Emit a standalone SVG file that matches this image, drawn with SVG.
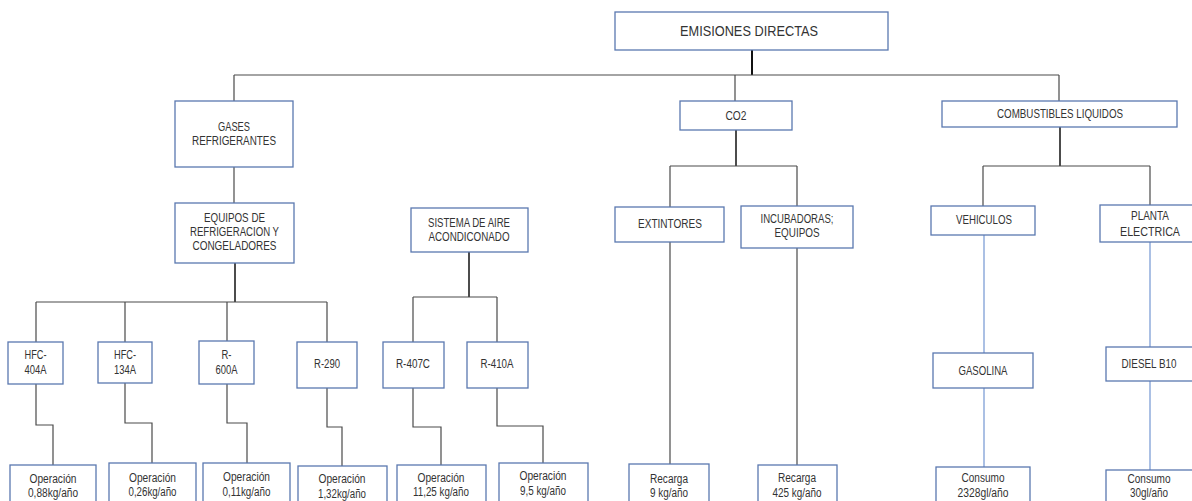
<svg xmlns="http://www.w3.org/2000/svg" width="1192" height="501" viewBox="0 0 1192 501">
<style>
.box{fill:#fff;stroke:#5a78b0;stroke-width:1.3}
.t{font-family:"Liberation Sans",Arial,sans-serif;font-size:12px;fill:#333;text-anchor:middle}
.big{font-size:14.5px}
.c{fill:none;stroke:#4a4a4a;stroke-width:1.2}
.k{fill:none;stroke:#111;stroke-width:1.5}
.b{fill:none;stroke:#7f9fd6;stroke-width:1.3}
</style>
<rect width="1192" height="501" fill="#fff"/>
<g id="connectors">
<path class="k" d="M752,50 V75" style="stroke-width:2"/>
<path class="c" d="M234,75 H1059 M234,75 V101 M735,75 V101 M1059,75 V101"/>
<path class="c" d="M234,167 V203"/>
<path class="k" d="M235,263 V302"/>
<path class="c" d="M36,302 H327 M36,302 V342 M125,302 V342 M227,302 V341 M327,302 V342"/>
<path class="k" d="M469,252 V297"/>
<path class="c" d="M413,297 H497 M413,297 V342 M497,297 V342"/>
<path class="c" d="M36,384 V425 H53 V465"/>
<path class="c" d="M125,383 V423 H152 V463"/>
<path class="c" d="M227,384 V423 H247 V463"/>
<path class="c" d="M327,388 V427 H342 V466"/>
<path class="c" d="M413,388 V427 H441 V465"/>
<path class="c" d="M497,388 V426 H543 V463"/>
<path class="k" d="M736,130 V166"/>
<path class="c" d="M670,166 H797 M670,166 V207 M797,166 V206"/>
<path class="c" d="M670,242 V464 M797,248 V465"/>
<path class="k" d="M1060,127 V166"/>
<path class="c" d="M983,166 H1150 M983,166 V206 M1150,166 V205"/>
<path class="b" d="M984,235 V353 M984,388 V467 M1150,242 V347 M1150,381 V470"/>
</g>
<g id="n_root"><rect class="box" x="615" y="12" width="273" height="38"/><text class="t big" x="749" y="36" textLength="138" lengthAdjust="spacingAndGlyphs">EMISIONES DIRECTAS</text></g>
<g id="n_gases"><rect class="box" x="175" y="101" width="118" height="66"/><text class="t" x="234" y="131" textLength="32" lengthAdjust="spacingAndGlyphs">GASES</text><text class="t" x="234" y="145" textLength="84" lengthAdjust="spacingAndGlyphs">REFRIGERANTES</text></g>
<g id="n_co2"><rect class="box" x="680" y="101" width="112" height="29"/><text class="t" x="736" y="120" textLength="21" lengthAdjust="spacingAndGlyphs">CO2</text></g>
<g id="n_comb"><rect class="box" x="942" y="101" width="235" height="26"/><text class="t" x="1060" y="118" textLength="126" lengthAdjust="spacingAndGlyphs">COMBUSTIBLES LIQUIDOS</text></g>
<g id="n_equipos"><rect class="box" x="175" y="203" width="119" height="60"/><text class="t" x="234.5" y="222" textLength="61" lengthAdjust="spacingAndGlyphs">EQUIPOS DE</text><text class="t" x="234.5" y="236" textLength="89" lengthAdjust="spacingAndGlyphs">REFRIGERACION Y</text><text class="t" x="234.5" y="250" textLength="84" lengthAdjust="spacingAndGlyphs">CONGELADORES</text></g>
<g id="n_sistema"><rect class="box" x="411" y="208" width="117" height="44"/><text class="t" x="469" y="227" textLength="82" lengthAdjust="spacingAndGlyphs">SISTEMA DE AIRE</text><text class="t" x="469" y="241" textLength="81" lengthAdjust="spacingAndGlyphs">ACONDICONADO</text></g>
<g id="n_extintores"><rect class="box" x="615" y="207" width="109" height="35"/><text class="t" x="670" y="228" textLength="64" lengthAdjust="spacingAndGlyphs">EXTINTORES</text></g>
<g id="n_incubadoras"><rect class="box" x="741" y="206" width="112" height="42"/><text class="t" x="797" y="223" textLength="73" lengthAdjust="spacingAndGlyphs">INCUBADORAS;</text><text class="t" x="797" y="237" textLength="45" lengthAdjust="spacingAndGlyphs">EQUIPOS</text></g>
<g id="n_vehiculos"><rect class="box" x="931" y="206" width="104" height="29"/><text class="t" x="984" y="224" textLength="56" lengthAdjust="spacingAndGlyphs">VEHICULOS</text></g>
<g id="n_planta"><rect class="box" x="1100" y="205" width="100" height="37"/><text class="t" x="1150" y="220" textLength="38" lengthAdjust="spacingAndGlyphs">PLANTA</text><text class="t" x="1150" y="236" textLength="60" lengthAdjust="spacingAndGlyphs">ELECTRICA</text></g>
<g id="n_hfc404"><rect class="box" x="8" y="342" width="55" height="42"/><text class="t" x="35.5" y="359" textLength="22" lengthAdjust="spacingAndGlyphs">HFC-</text><text class="t" x="35.5" y="374" textLength="22" lengthAdjust="spacingAndGlyphs">404A</text></g>
<g id="n_hfc134"><rect class="box" x="98" y="342" width="54" height="41"/><text class="t" x="125" y="359" textLength="22" lengthAdjust="spacingAndGlyphs">HFC-</text><text class="t" x="125" y="374" textLength="22" lengthAdjust="spacingAndGlyphs">134A</text></g>
<g id="n_r600"><rect class="box" x="199" y="341" width="55" height="43"/><text class="t" x="226.5" y="359" textLength="10" lengthAdjust="spacingAndGlyphs">R-</text><text class="t" x="226.5" y="374" textLength="22" lengthAdjust="spacingAndGlyphs">600A</text></g>
<g id="n_r290"><rect class="box" x="297" y="342" width="60" height="46"/><text class="t" x="327" y="368" textLength="26" lengthAdjust="spacingAndGlyphs">R-290</text></g>
<g id="n_r407c"><rect class="box" x="383" y="342" width="61" height="46"/><text class="t" x="413" y="368" textLength="34" lengthAdjust="spacingAndGlyphs">R-407C</text></g>
<g id="n_r410a"><rect class="box" x="467" y="342" width="61" height="46"/><text class="t" x="497" y="368" textLength="33" lengthAdjust="spacingAndGlyphs">R-410A</text></g>
<g id="n_gasolina"><rect class="box" x="933" y="353" width="100" height="35"/><text class="t" x="983" y="375" textLength="49" lengthAdjust="spacingAndGlyphs">GASOLINA</text></g>
<g id="n_diesel"><rect class="box" x="1106" y="347" width="90" height="34"/><text class="t" x="1149" y="368" textLength="55" lengthAdjust="spacingAndGlyphs">DIESEL B10</text></g>
<g id="n_op1"><rect class="box" x="10" y="465" width="86" height="45"/><text class="t" x="53" y="483" textLength="47" lengthAdjust="spacingAndGlyphs">Operación</text><text class="t" x="53" y="497" textLength="50" lengthAdjust="spacingAndGlyphs">0,88kg/año</text></g>
<g id="n_op2"><rect class="box" x="109" y="463" width="87" height="45"/><text class="t" x="152.5" y="482" textLength="47" lengthAdjust="spacingAndGlyphs">Operación</text><text class="t" x="152.5" y="496" textLength="48" lengthAdjust="spacingAndGlyphs">0,26kg/año</text></g>
<g id="n_op3"><rect class="box" x="203" y="463" width="87" height="45"/><text class="t" x="246.5" y="481" textLength="47" lengthAdjust="spacingAndGlyphs">Operación</text><text class="t" x="246.5" y="496" textLength="48" lengthAdjust="spacingAndGlyphs">0,11kg/año</text></g>
<g id="n_op4"><rect class="box" x="298" y="466" width="89" height="45"/><text class="t" x="342" y="483" textLength="47" lengthAdjust="spacingAndGlyphs">Operación</text><text class="t" x="342" y="498" textLength="48" lengthAdjust="spacingAndGlyphs">1,32kg/año</text></g>
<g id="n_op5"><rect class="box" x="397" y="465" width="89" height="45"/><text class="t" x="441" y="482" textLength="47" lengthAdjust="spacingAndGlyphs">Operación</text><text class="t" x="441" y="496" textLength="56" lengthAdjust="spacingAndGlyphs">11,25 kg/año</text></g>
<g id="n_op6"><rect class="box" x="499" y="463" width="89" height="45"/><text class="t" x="543" y="480" textLength="47" lengthAdjust="spacingAndGlyphs">Operación</text><text class="t" x="543" y="495" textLength="46" lengthAdjust="spacingAndGlyphs">9,5 kg/año</text></g>
<g id="n_rec1"><rect class="box" x="629" y="464" width="80" height="45"/><text class="t" x="669" y="483" textLength="38" lengthAdjust="spacingAndGlyphs">Recarga</text><text class="t" x="669" y="497" textLength="38" lengthAdjust="spacingAndGlyphs">9 kg/año</text></g>
<g id="n_rec2"><rect class="box" x="758" y="465" width="79" height="45"/><text class="t" x="797" y="482" textLength="38" lengthAdjust="spacingAndGlyphs">Recarga</text><text class="t" x="797" y="497" textLength="49" lengthAdjust="spacingAndGlyphs">425 kg/año</text></g>
<g id="n_cons1"><rect class="box" x="936" y="467" width="94" height="45"/><text class="t" x="983" y="482" textLength="43" lengthAdjust="spacingAndGlyphs">Consumo</text><text class="t" x="983" y="497" textLength="51" lengthAdjust="spacingAndGlyphs">2328gl/año</text></g>
<g id="n_cons2"><rect class="box" x="1106" y="470" width="90" height="45"/><text class="t" x="1149" y="483" textLength="43" lengthAdjust="spacingAndGlyphs">Consumo</text><text class="t" x="1149" y="497" textLength="38" lengthAdjust="spacingAndGlyphs">30gl/año</text></g>
</svg>
